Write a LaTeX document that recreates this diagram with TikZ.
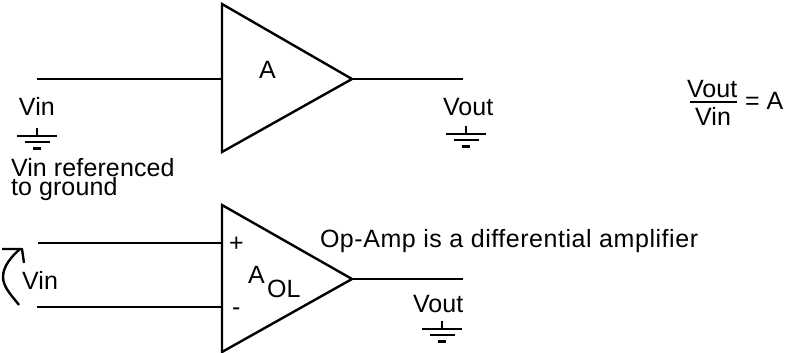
\documentclass[tikz,border=0pt]{standalone}
\usepackage{fontspec}
\setmainfont{Liberation Sans}[LetterSpace=0.5]
\newfontfamily\widefont{Liberation Sans}[LetterSpace=2.2]
\tikzset{
  x=1pt,y=-1pt,
  wire/.style={line width=2.4pt,line cap=butt},
  thinwire/.style={line width=2pt},
  lbl/.style={anchor=base west,inner sep=0pt,outer sep=0pt,font=\fontsize{25}{25}\selectfont},
  amp/.style={line width=2.4pt,line join=miter},
  pics/gnd/.style={code={
    \draw[thinwire] (0,-8) -- (0,0);
    \draw[thinwire] (-20,0) -- (20,0);
    \draw[thinwire] (-12.5,6) -- (12.5,6);
    \draw[line width=2.4pt] (-4,12.5) -- (4,12.5);
  }}
}
\begin{document}
\begin{tikzpicture}
\useasboundingbox (0,0) rectangle (785,353);
% top amplifier
\coordinate (t1) at (222,4);
\coordinate (t2) at (222,152);
\coordinate (tout) at (352,79);
\coordinate (tin) at (222,79);
\coordinate (tinfree) at (37,79);
\coordinate (toutfree) at (463,79);
\draw[amp] (t1) -- (tout) -- (t2) -- cycle;
\draw[wire] (tinfree) -- (tin);
\draw[wire] (tout) -- (toutfree);
\node[lbl] (a) at (259,79) {A};
\node[lbl] (vin1) at (19,115) {Vin};
\node[lbl] (vout1) at (443,116) {Vout};
\pic at (37,136) {gnd};
\pic at (466,134) {gnd};
\node[lbl] (ref1) at (11,176) {Vin referenced};
\node[lbl] (ref2) at (11,195) {to ground};
% ratio
\node[lbl] (num) at (687,98) {Vout};
\node[lbl] (den) at (695,125) {Vin};
\coordinate (barl) at (690,102);
\coordinate (barr) at (737,102);
\draw[wire] (barl) -- (barr);
\node[lbl] (eq) at (745,110) {= A};
% op-amp
\coordinate (b1) at (222,205);
\coordinate (b2) at (222,352);
\coordinate (bout) at (352,279);
\coordinate (bp) at (222,243);
\coordinate (bm) at (222,307);
\coordinate (bpfree) at (38,243);
\coordinate (bmfree) at (37,307);
\coordinate (boutfree) at (463,279);
\draw[amp] (b1) -- (bout) -- (b2) -- cycle;
\draw[wire] (bpfree) -- (bp);
\draw[wire] (bmfree) -- (bm);
\draw[wire] (bout) -- (boutfree);
\node[lbl] (plus) at (229,251) {+};
\node[lbl] (minus) at (232,315) {-};
\node[lbl] (aa) at (248,283) {A};
\node[lbl] (ol) at (267,297) {OL};
\node[lbl,font=\fontsize{25}{25}\widefont] (diff) at (320,247) {Op-Amp is a differential amplifier};
\node[lbl] (vin2) at (22,289) {Vin};
\node[lbl] (vout2) at (413,312) {Vout};
\pic at (442,329) {gnd};
% hand-drawn arrow
\coordinate (h0) at (19,305);
\coordinate (h1) at (20,249);
\coordinate (h2) at (2,249);
\coordinate (h3) at (24,263);
\draw[wire,line join=round] (h0) .. controls (14,298) and (3,288) .. (3,277) .. controls (3,266) and (12,256) .. (h1);
\draw[wire,line join=round] (h2) -- (22,249) -- (h3);
\end{tikzpicture}
\end{document}
